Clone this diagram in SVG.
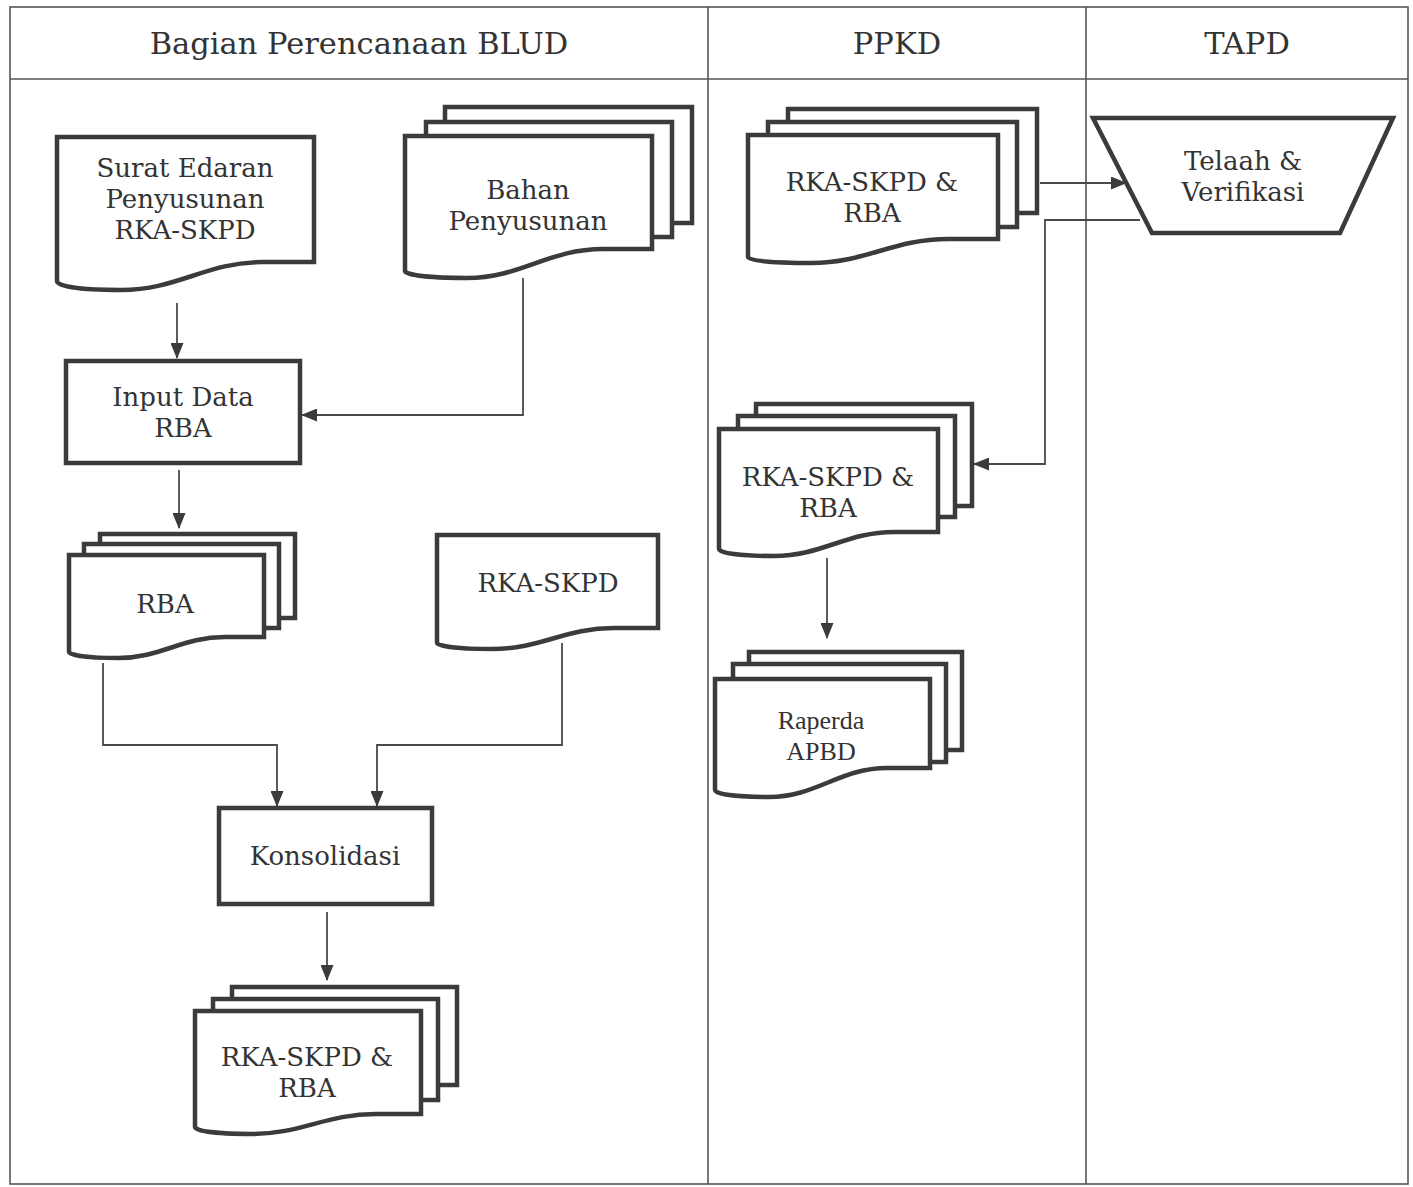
<svg xmlns="http://www.w3.org/2000/svg" width="1413" height="1187" viewBox="0 0 1413 1187">
<style>
.lane{fill:none;stroke:#555;stroke-width:1.6}
.shape{fill:#fff;stroke:#3b3b3b;stroke-width:4.5;stroke-linejoin:miter}
.conn{fill:none;stroke:#4a4a4a;stroke-width:1.8}
.t{font-family:"DejaVu Serif","Liberation Serif",serif;font-size:26px;fill:#333;text-anchor:middle}
.h{font-family:"DejaVu Serif","Liberation Serif",serif;font-size:30.5px;fill:#333;text-anchor:middle}
.tt{font-family:"Liberation Serif","DejaVu Serif",serif;font-size:26px;fill:#333;text-anchor:middle}
</style>
<defs>
<marker id="arr" markerUnits="userSpaceOnUse" markerWidth="16" markerHeight="13" viewBox="0 0 16 13" refX="15" refY="6.5" orient="auto">
<path d="M0,0 L16,6.5 L0,13 Z" fill="#3b3b3b"/>
</marker>
</defs>
<rect width="1413" height="1187" fill="#fff"/>
<g id="lanes">
<rect class="lane" x="10" y="7" width="1398" height="1177"/>
<line class="lane" x1="10" y1="79" x2="1408" y2="79"/>
<line class="lane" x1="708" y1="7" x2="708" y2="1184"/>
<line class="lane" x1="1086" y1="7" x2="1086" y2="1184"/>
<text class="h" x="359" y="54">Bagian Perencanaan BLUD</text>
<text class="h" x="897" y="54">PPKD</text>
<text class="h" x="1247" y="54">TAPD</text>
</g>
<g id="connectors">
<path class="conn" d="M177,303 V358" marker-end="url(#arr)"/>
<path class="conn" d="M523,278 V415 H302" marker-end="url(#arr)"/>
<path class="conn" d="M179,470 V528" marker-end="url(#arr)"/>
<path class="conn" d="M103,663 V745 H277 V806" marker-end="url(#arr)"/>
<path class="conn" d="M562,643 V745 H377 V806" marker-end="url(#arr)"/>
<path class="conn" d="M327,912 V980" marker-end="url(#arr)"/>
<path class="conn" d="M1040,183 H1126" marker-end="url(#arr)"/>
<path class="conn" d="M1140,220 H1045 V464 H974" marker-end="url(#arr)"/>
<path class="conn" d="M827,558 V638" marker-end="url(#arr)"/>
</g>
<g id="surat-edaran">
<path class="shape" d="M57,137 H314 V262 H263 C206,262 178,290 121,290 C83,290 57,287 57,281 Z"/>
<text class="t" x="185" y="177">Surat Edaran</text>
<text class="t" x="185" y="208">Penyusunan</text>
<text class="t" x="185" y="239">RKA-SKPD</text>
</g>
<g id="bahan-penyusunan">
<rect class="shape" x="445" y="107" width="247" height="116"/>
<rect class="shape" x="426" y="122" width="246" height="115"/>
<path class="shape" d="M405,136 H652 V249 H603 C548,249 521,278 467,278 C430,278 405,275 405,271 Z"/>
<text class="t" x="528" y="199">Bahan</text>
<text class="t" x="528" y="230">Penyusunan</text>
</g>
<g id="input-data-rba">
<rect class="shape" x="66" y="361" width="234" height="102"/>
<text class="t" x="183" y="406">Input Data</text>
<text class="t" x="183" y="437">RBA</text>
</g>
<g id="rba">
<rect class="shape" x="100" y="534" width="195" height="84"/>
<rect class="shape" x="84" y="544" width="195" height="84"/>
<path class="shape" d="M69,555 H264 V637 H225 C182,637 161,658 118,658 C88,658 69,655 69,652 Z"/>
<text class="t" x="165" y="613">RBA</text>
</g>
<g id="rka-skpd">
<path class="shape" d="M437,535 H658 V628 H614 C565,628 541,649 492,649 C459,649 437,646 437,643 Z"/>
<text class="t" x="548" y="592">RKA-SKPD</text>
</g>
<g id="konsolidasi">
<rect class="shape" x="219" y="808" width="213" height="96"/>
<text class="t" x="325" y="865">Konsolidasi</text>
</g>
<g id="rka-skpd-rba-final">
<rect class="shape" x="232" y="987" width="225" height="98"/>
<rect class="shape" x="213" y="999" width="225" height="101"/>
<path class="shape" d="M195,1011 H421 V1114 H376 C326,1114 301,1134 252,1134 C218,1134 195,1131 195,1127 Z"/>
<text class="t" x="307" y="1066">RKA-SKPD &amp;</text>
<text class="t" x="307" y="1097">RBA</text>
</g>
<g id="ppkd-rka-skpd-rba">
<rect class="shape" x="788" y="109" width="249" height="104"/>
<rect class="shape" x="768" y="122" width="249" height="105"/>
<path class="shape" d="M748,135 H998 V239 H948 C893,239 866,263 811,263 C773,263 748,261 748,257 Z"/>
<text class="t" x="872" y="191">RKA-SKPD &amp;</text>
<text class="t" x="872" y="222">RBA</text>
</g>
<g id="telaah-verifikasi">
<path class="shape" d="M1093,118 H1393 L1340,233 H1152 Z"/>
<text class="t" x="1243" y="170">Telaah &amp;</text>
<text class="t" x="1243" y="201">Verifikasi</text>
</g>
<g id="ppkd-rka-skpd-rba-2">
<rect class="shape" x="756" y="404" width="216" height="102"/>
<rect class="shape" x="738" y="416" width="217" height="101"/>
<path class="shape" d="M719,429 H938 V532 H894 C846,532 822,556 774,556 C741,556 719,553 719,549 Z"/>
<text class="t" x="828" y="486">RKA-SKPD &amp;</text>
<text class="t" x="828" y="517">RBA</text>
</g>
<g id="raperda-apbd">
<rect class="shape" x="749" y="652" width="213" height="98"/>
<rect class="shape" x="733" y="664" width="213" height="98"/>
<path class="shape" d="M715,679 H930 V768 H887 C840,768 816,797 769,797 C736,797 715,794 715,790 Z"/>
<text class="tt" x="821" y="729">Raperda</text>
<text class="tt" x="821" y="760">APBD</text>
</g>
</svg>
